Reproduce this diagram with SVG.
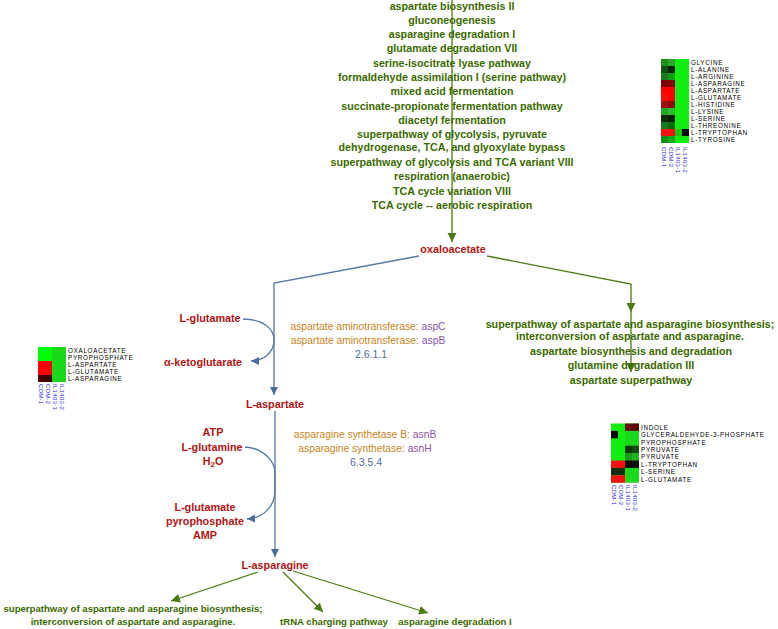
<svg xmlns="http://www.w3.org/2000/svg" width="778" height="629" viewBox="0 0 778 629">
<style>
.pw{font-family:"Liberation Sans",Arial,sans-serif;font-weight:bold;font-size:10.7px;fill:#3b6a00;text-anchor:middle}
.pb{font-family:"Liberation Sans",Arial,sans-serif;font-weight:bold;font-size:9.6px;fill:#3b6a00;text-anchor:middle}
.cp{font-family:"Liberation Sans",Arial,sans-serif;font-weight:bold;font-size:10.8px;fill:#b01515;text-anchor:middle}
.en{font-family:"Liberation Sans",Arial,sans-serif;font-size:10.3px;fill:#c8841c;text-anchor:middle}
.gn{fill:#8a55aa}
.ec{font-family:"Liberation Sans",Arial,sans-serif;font-size:10.5px;fill:#4f6f9f;text-anchor:middle}
.hl{font-family:"Liberation Sans",Arial,sans-serif;font-size:6.3px;letter-spacing:0.7px;fill:#000}
.hc{font-family:"Liberation Sans",Arial,sans-serif;font-size:6px;letter-spacing:0.3px;fill:#2a2ad8}
.gl{fill:none;stroke:#4b7b12;stroke-width:1.3}
.bl{fill:none;stroke:#56789f;stroke-width:1.3}
</style>
<defs>
<marker id="ag" markerUnits="userSpaceOnUse" markerWidth="10" markerHeight="10" refX="9" refY="4.5" orient="auto"><path d="M0,0 L9,4.5 L0,9 z" fill="#4b7b12"/></marker>
<marker id="ab" markerUnits="userSpaceOnUse" markerWidth="10" markerHeight="10" refX="8" refY="4" orient="auto"><path d="M0,0 L8,4 L0,8 z" fill="#4a6e9a"/></marker>
</defs>
<rect width="778" height="629" fill="#fff"/>

<g id="connectors">
<path class="gl" d="M452,0 L452,242" marker-end="url(#ag)"/>
<path class="gl" d="M487,256 L631,284 L631,312" marker-end="url(#ag)"/>
<path class="gl" d="M631,312 L631,372" marker-end="url(#ag)"/>
<path class="bl" d="M419,256 L274,283 L274,395" marker-end="url(#ab)"/>
<path class="bl" d="M243,319 C262,319 274,328 274,340 C274,352 264,361 251,361" marker-end="url(#ab)"/>
<path class="bl" d="M275,411 L275,557" marker-end="url(#ab)"/>
<path class="bl" d="M245,447 C264,448 275,462 275,473 L275,490 C275,506 264,518 247,519" marker-end="url(#ab)"/>
<path class="gl" d="M258,572 L171,601" marker-end="url(#ag)"/>
<path class="gl" d="M283,572 L323,612" marker-end="url(#ag)"/>
<path class="gl" d="M293,571 L428,613" marker-end="url(#ag)"/>
</g>

<g id="pathways-top">
<text class="pw" x="452" y="10">aspartate biosynthesis II</text>
<text class="pw" x="452" y="24">gluconeogenesis</text>
<text class="pw" x="452" y="38">asparagine degradation I</text>
<text class="pw" x="452" y="52">glutamate degradation VII</text>
<text class="pw" x="452" y="67">serine-isocitrate lyase pathway</text>
<text class="pw" x="452" y="81">formaldehyde assimilation I (serine pathway)</text>
<text class="pw" x="452" y="95">mixed acid fermentation</text>
<text class="pw" x="452" y="110">succinate-propionate fermentation pathway</text>
<text class="pw" x="452" y="124">diacetyl fermentation</text>
<text class="pw" x="452" y="138">superpathway of glycolysis, pyruvate</text>
<text class="pw" x="452" y="151">dehydrogenase, TCA, and glyoxylate bypass</text>
<text class="pw" x="452" y="166">superpathway of glycolysis and TCA variant VIII</text>
<text class="pw" x="452" y="180">respiration (anaerobic)</text>
<text class="pw" x="452" y="195">TCA cycle variation VIII</text>
<text class="pw" x="452" y="209">TCA cycle -- aerobic respiration</text>
</g>

<g id="oxaloacetate"><text class="cp" x="453" y="253">oxaloacetate</text></g>

<g id="pathways-right">
<text class="pw" x="630" y="328">superpathway of aspartate and asparagine biosynthesis;</text>
<text class="pw" x="630" y="340">interconversion of aspartate and asparagine.</text>
<text class="pw" x="631" y="355">aspartate biosynthesis and degradation</text>
<text class="pw" x="631" y="369">glutamine degradation III</text>
<text class="pw" x="631" y="384">aspartate superpathway</text>
</g>

<g id="L-glutamate-1"><text class="cp" x="210" y="322">L-glutamate</text></g>
<g id="ketoglutarate"><text class="cp" x="203" y="366">α-ketoglutarate</text></g>
<g id="enzyme-1">
<text class="en" x="368" y="330">aspartate aminotransferase: <tspan class="gn">aspC</tspan></text>
<text class="en" x="368" y="344">aspartate aminotransferase: <tspan class="gn">aspB</tspan></text>
<text class="ec" x="371" y="358">2.6.1.1</text>
</g>
<g id="L-aspartate"><text class="cp" x="275" y="408">L-aspartate</text></g>

<g id="substrates-2">
<text class="cp" x="213" y="436">ATP</text>
<text class="cp" x="212" y="451">L-glutamine</text>
<text class="cp" x="213" y="465">H<tspan font-size="8" dy="2">2</tspan><tspan dy="-2">O</tspan></text>
</g>
<g id="products-2">
<text class="cp" x="205" y="511">L-glutamate</text>
<text class="cp" x="205" y="525">pyrophosphate</text>
<text class="cp" x="205" y="539">AMP</text>
</g>
<g id="enzyme-2">
<text class="en" x="365" y="438">asparagine synthetase B: <tspan class="gn">asnB</tspan></text>
<text class="en" x="365" y="452">asparagine synthetase: <tspan class="gn">asnH</tspan></text>
<text class="ec" x="366" y="466">6.3.5.4</text>
</g>
<g id="L-asparagine"><text class="cp" x="275" y="569">L-asparagine</text></g>

<g id="pathways-bottom">
<text class="pb" x="133" y="612">superpathway of aspartate and asparagine biosynthesis;</text>
<text class="pb" x="133" y="625">interconversion of aspartate and asparagine.</text>
<text class="pb" x="334" y="625">tRNA charging pathway</text>
<text class="pb" x="455" y="625">asparagine degradation I</text>
</g>

<g id="heatmap-1">
<g stroke="none">
<rect x="661" y="59" width="7" height="7" fill="#1d8f1d"/><rect x="668" y="59" width="7" height="7" fill="#2aa62a"/><rect x="675" y="59" width="14" height="84" fill="#11ee11"/>
<rect x="661" y="66" width="7" height="7" fill="#0f4f0f"/><rect x="668" y="66" width="7" height="7" fill="#052505"/>
<rect x="661" y="73" width="7" height="7" fill="#1f7a1f"/><rect x="668" y="73" width="7" height="7" fill="#129a12"/>
<rect x="661" y="80" width="7" height="7" fill="#7a0000"/><rect x="668" y="80" width="7" height="7" fill="#850505"/>
<rect x="661" y="87" width="7" height="7" fill="#ff0000"/><rect x="668" y="87" width="7" height="7" fill="#ff0000"/>
<rect x="661" y="94" width="7" height="7" fill="#ff0a0a"/><rect x="668" y="94" width="7" height="7" fill="#ff0000"/>
<rect x="661" y="101" width="7" height="7" fill="#a01010"/><rect x="668" y="101" width="7" height="7" fill="#8a0a0a"/>
<rect x="661" y="108" width="7" height="7" fill="#22a822"/><rect x="668" y="108" width="7" height="7" fill="#30b830"/>
<rect x="661" y="115" width="7" height="7" fill="#063006"/><rect x="668" y="115" width="7" height="7" fill="#042204"/>
<rect x="661" y="122" width="7" height="7" fill="#1c7a1c"/><rect x="668" y="122" width="7" height="7" fill="#0f6a0f"/>
<rect x="661" y="129" width="7" height="7" fill="#ff1010"/><rect x="668" y="129" width="7" height="7" fill="#ff1010"/><rect x="675" y="129" width="7" height="7" fill="#11cc11"/><rect x="682" y="129" width="7" height="7" fill="#050505"/>
<rect x="661" y="136" width="7" height="7" fill="#149014"/><rect x="668" y="136" width="7" height="7" fill="#1aaa1a"/>
</g>
<text class="hl" x="691" y="65">GLYCINE</text>
<text class="hl" x="691" y="72">L-ALANINE</text>
<text class="hl" x="691" y="79">L-ARGININE</text>
<text class="hl" x="691" y="86">L-ASPARAGINE</text>
<text class="hl" x="691" y="93">L-ASPARTATE</text>
<text class="hl" x="691" y="100">L-GLUTAMATE</text>
<text class="hl" x="691" y="107">L-HISTIDINE</text>
<text class="hl" x="691" y="114">L-LYSINE</text>
<text class="hl" x="691" y="121">L-SERINE</text>
<text class="hl" x="691" y="128">L-THREONINE</text>
<text class="hl" x="691" y="135">L-TRYPTOPHAN</text>
<text class="hl" x="691" y="142">L-TYROSINE</text>
<text class="hc" transform="translate(662,147) rotate(90)">CDM-1</text>
<text class="hc" transform="translate(669,147) rotate(90)">CDM-2</text>
<text class="hc" transform="translate(676,147) rotate(90)">IL1403-1</text>
<text class="hc" transform="translate(683,147) rotate(90)">IL1403-2</text>
</g>

<g id="heatmap-2">
<g stroke="none">
<rect x="38" y="347" width="7" height="7" fill="#00ff00"/><rect x="45" y="347" width="7" height="7" fill="#00ff00"/><rect x="52" y="347" width="14" height="35" fill="#1ad81a"/>
<rect x="38" y="354" width="7" height="7" fill="#00ff00"/><rect x="45" y="354" width="7" height="7" fill="#00ff00"/>
<rect x="38" y="361" width="7" height="7" fill="#ff0000"/><rect x="45" y="361" width="7" height="7" fill="#ff0000"/>
<rect x="38" y="368" width="7" height="7" fill="#ff0000"/><rect x="45" y="368" width="7" height="7" fill="#ff0000"/>
<rect x="38" y="375" width="7" height="7" fill="#4a0000"/><rect x="45" y="375" width="7" height="7" fill="#3a0000"/>
</g>
<text class="hl" x="68" y="353">OXALOACETATE</text>
<text class="hl" x="68" y="360">PYROPHOSPHATE</text>
<text class="hl" x="68" y="367">L-ASPARTATE</text>
<text class="hl" x="68" y="374">L-GLUTAMATE</text>
<text class="hl" x="68" y="381">L-ASPARAGINE</text>
<text class="hc" transform="translate(39,384) rotate(90)">CDM-1</text>
<text class="hc" transform="translate(46,384) rotate(90)">CDM-2</text>
<text class="hc" transform="translate(53,384) rotate(90)">IL1403-1</text>
<text class="hc" transform="translate(60,384) rotate(90)">IL1403-2</text>
</g>

<g id="heatmap-3">
<g stroke="none">
<rect x="611" y="423.5" width="14" height="59.2" fill="#11ee11"/><rect x="625" y="423.5" width="14" height="59.2" fill="#1ad81a"/>
<rect x="625" y="423.5" width="7" height="7.4" fill="#6a1010"/><rect x="632" y="423.5" width="7" height="7.4" fill="#5a0808"/>
<rect x="611" y="430.9" width="7" height="7.4" fill="#050505"/>
<rect x="625" y="445.7" width="7" height="7.4" fill="#0a3a0a"/><rect x="632" y="445.7" width="7" height="7.4" fill="#124a12"/>
<rect x="625" y="453.1" width="7" height="7.4" fill="#1a9a1a"/><rect x="632" y="453.1" width="7" height="7.4" fill="#22b022"/>
<rect x="611" y="460.5" width="14" height="7.4" fill="#ff1010"/><rect x="625" y="460.5" width="7" height="7.4" fill="#080808"/><rect x="632" y="460.5" width="7" height="7.4" fill="#101010"/>
<rect x="611" y="467.9" width="14" height="7.4" fill="#0a300a"/>
<rect x="611" y="475.3" width="14" height="7.4" fill="#ff1010"/>
</g>
<text class="hl" x="641" y="429.7">INDOLE</text>
<text class="hl" x="641" y="437.1">GLYCERALDEHYDE-3-PHOSPHATE</text>
<text class="hl" x="641" y="444.5">PYROPHOSPHATE</text>
<text class="hl" x="641" y="451.9">PYRUVATE</text>
<text class="hl" x="641" y="459.3">PYRUVATE</text>
<text class="hl" x="641" y="466.7">L-TRYPTOPHAN</text>
<text class="hl" x="641" y="474.1">L-SERINE</text>
<text class="hl" x="641" y="481.5">L-GLUTAMATE</text>
<text class="hc" transform="translate(612,485) rotate(90)">CDM-1</text>
<text class="hc" transform="translate(619,485) rotate(90)">CDM-2</text>
<text class="hc" transform="translate(626,485) rotate(90)">IL1403-1</text>
<text class="hc" transform="translate(633,485) rotate(90)">IL1403-2</text>
</g>
</svg>
